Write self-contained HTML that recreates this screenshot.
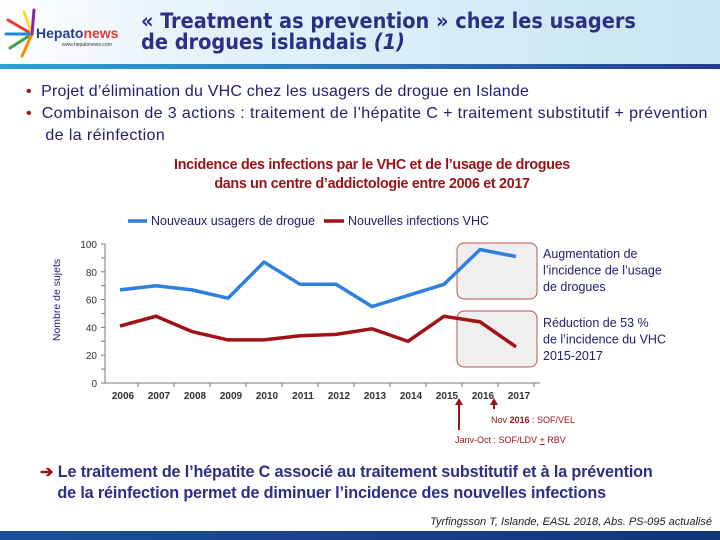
<!DOCTYPE html>
<html><head><meta charset="utf-8">
<style>
body{margin:0;width:720px;height:540px;overflow:hidden;background:#fff;font-family:"Liberation Sans",sans-serif;position:relative}
.a{position:absolute;white-space:nowrap}
.nav{color:#1f2170}
.red{color:#9b1118}
</style></head><body>
<div class="a" style="left:0;top:0;width:720px;height:64px;background:linear-gradient(90deg,#ffffff 0%,#e6f3fa 25%,#c6e6f4 100%)"></div>
<div class="a" style="left:0;top:64px;width:720px;height:5px;background:linear-gradient(90deg,#2aa3d6,#2b6cb3 60%,#243b8f)"></div>
<svg class="a" style="left:2px;top:8px" width="130" height="52">
<g stroke-width="3" stroke-linecap="round">
<line x1="30" y1="26" x2="6" y2="12" stroke="#e53935"/><line x1="30" y1="26" x2="4" y2="26" stroke="#1e88e5"/>
<line x1="30" y1="26" x2="8" y2="40" stroke="#43a047"/><line x1="30" y1="26" x2="22" y2="4" stroke="#fdd835"/>
<line x1="30" y1="26" x2="20" y2="48" stroke="#fb8c00"/><line x1="30" y1="26" x2="32" y2="2" stroke="#8e24aa"/></g>
<text x="34" y="30" font-size="14" font-weight="bold" fill="#1f3f99" font-family="Liberation Sans">Hepato<tspan fill="#e53935">news</tspan></text>
<text x="60" y="38" font-size="5" fill="#333">www.hepatonews.com</text></svg>
<div class="a nav" style="left:141px;top:11px;font-size:21.5px;line-height:21px;font-family:'DejaVu Sans Condensed','DejaVu Sans',sans-serif;color:#2c2f86;letter-spacing:0px;font-weight:bold">« Treatment as prevention » chez les usagers<br>de drogues islandais <i>(1)</i></div>
<div class="a nav" style="left:26px;top:83px;font-size:16px;letter-spacing:0.2px"><span class="red">•</span>&nbsp; Projet d’élimination du VHC chez les usagers de drogue en Islande</div>
<div class="a nav" style="left:26px;top:103px;font-size:16px;line-height:22px;letter-spacing:0.4px"><span class="red">•</span>&nbsp; Combinaison de 3 actions : traitement de l’hépatite C + traitement substitutif + prévention<br>&nbsp;&nbsp;&nbsp; de la réinfection</div>
<div class="a red" style="left:0;width:744px;top:156px;text-align:center;font-size:14.3px;line-height:19px;font-weight:bold;letter-spacing:-0.3px">Incidence des infections par le VHC et de l’usage de drogues<br>dans un centre d’addictologie entre 2006 et 2017</div>
<svg class="a" id="chart" style="left:0;top:200px" width="720" height="260"></svg>
<div class="a nav" style="left:40px;top:462px;font-size:16.2px;line-height:21px;font-weight:bold;color:#2c2f86;letter-spacing:-0.15px"><span style="color:#9b1118">➔</span> Le traitement de l’hépatite C associé au traitement substitutif et à la prévention<br>&nbsp;&nbsp;&nbsp;&nbsp;de la réinfection permet de diminuer l’incidence des nouvelles infections</div>
<div class="a" style="right:8px;top:516px;font-size:11px;font-style:italic;color:#222">Tyrfingsson T, Islande, EASL 2018, Abs. PS-095 actualisé</div>
<div class="a" style="left:0;top:531px;width:720px;height:9px;background:linear-gradient(90deg,#1b4f9a,#12357a)"></div>
<script>
const years=["2006","2007","2008","2009","2010","2011","2012","2013","2014","2015","2016","2017"];
const usagers=[67,70,67,61,87,71,71,55,63,71,96,91];
const infections=[41,48,37,31,31,34,35,39,30,48,44,26];
const yTicks=[0,20,40,60,80,100];
const NS="http://www.w3.org/2000/svg",svg=document.getElementById('chart');
const X0=120,DX=36,Y0=183,YS=1.39;
const x=i=>X0+i*DX, y=v=>Y0-v*YS;
function mk(t,a,p){const e=document.createElementNS(NS,t);for(const k in a)e.setAttribute(k,a[k]);(p||svg).appendChild(e);return e;}
let b1=mk('rect',{x:457,y:43,width:80,height:56,rx:7,fill:'#efefef',stroke:'#c0504d','stroke-width':1});


let b2=mk('rect',{x:457,y:111,width:80,height:56,rx:7,fill:'#efefef',stroke:'#c0504d','stroke-width':1});


let ya=mk('line',{x1:105,y1:y(100),x2:105,y2:Y0,stroke:'#777'});


let xa=mk('line',{x1:105,y1:Y0,x2:540,y2:Y0,stroke:'#777'});


for(let v=0;v<=100;v+=10)mk('line',{x1:101,y1:y(v),x2:105,y2:y(v),stroke:'#777'});
yTicks.forEach(v=>{const t=mk('text',{x:97,y:y(v)+4,'text-anchor':'end','font-size':10,fill:'#333'});t.textContent=v;

});
years.forEach((s,i)=>{mk('line',{x1:x(i)+DX/2,y1:Y0,x2:x(i)+DX/2,y2:Y0+4,stroke:'#777'});
const t=mk('text',{x:x(i)+3,y:Y0+16,'text-anchor':'middle','font-size':10,'font-weight':'bold',fill:'#333'});t.textContent=s;

});
const yt=mk('text',{x:0,y:0,transform:'translate(60,100) rotate(-90)','text-anchor':'middle','font-size':10.5,fill:'#1f2170'});yt.textContent='Nombre de sujets';


function series(d,c,n){const p=mk('polyline',{points:d.map((v,i)=>x(i)+','+y(v)).join(' '),fill:'none',stroke:c,'stroke-width':3.5,'stroke-linejoin':'miter'});

}
series(usagers,'#2f7fde','series-nouveaux-usagers');
series(infections,'#a01215','series-nouvelles-infections');
const lg=mk('g',{});


mk('line',{x1:128,y1:21,x2:147,y2:21,stroke:'#2f7fde','stroke-width':3.5},lg);
let l1=mk('text',{x:151,y:25,'font-size':12.5,fill:'#1f2170'},lg);l1.textContent='Nouveaux usagers de drogue';
mk('line',{x1:324,y1:21,x2:344,y2:21,stroke:'#a01215','stroke-width':3.5},lg);
let l2=mk('text',{x:348,y:25,'font-size':12.5,fill:'#1f2170'},lg);l2.textContent='Nouvelles infections VHC';
[[459,198,230],[494,198,209]].forEach(([ax,y1,y2],k)=>{mk('line',{x1:ax,y1:y1+6,x2:ax,y2:y2,stroke:'#9b1118','stroke-width':2});
const h=mk('polygon',{points:`${ax-4},${y1+7} ${ax+4},${y1+7} ${ax},${y1}`,fill:'#9b1118'});

});
function txt(s,xx,yy,n){const t=mk('text',{x:xx,y:yy,'font-size':9,fill:'#9b1118'});t.innerHTML=s;

}
txt('Nov <tspan font-weight="bold">2016</tspan> : SOF/VEL',491,223,'annotation-nov-2016');
txt('Janv-Oct : SOF/LDV <tspan text-decoration="underline">+</tspan> RBV',455,243,'annotation-janv-oct');
function note(lines,xx,yy,n){const t=mk('text',{x:xx,y:yy,'font-size':12.5,fill:'#1f2170'});
lines.forEach((s,i)=>{const ts=mk('tspan',{x:xx,dy:i?16.5:0},t);ts.textContent=s;});

}
note(['Augmentation de',"l’incidence de l’usage",'de drogues'],543,58,'note-augmentation');
note(['Réduction de 53 %',"de l’incidence du VHC",'2015-2017'],543,127,'note-reduction');
</script>
</body></html>
